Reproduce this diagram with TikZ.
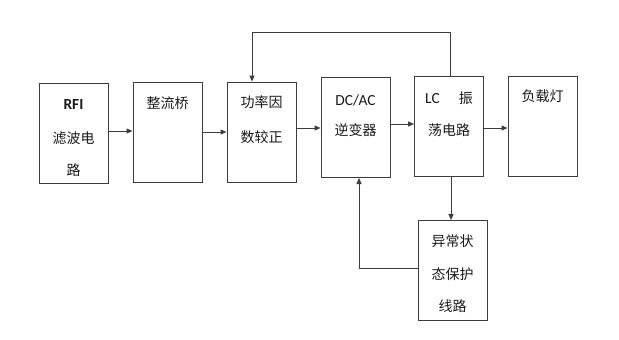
\documentclass[tikz,border=0pt]{standalone}
\usepackage{fontspec}
\setmainfont{Noto Sans CJK SC}
\newfontfamily\latinfont[Scale=1.1]{Carlito}
\usetikzlibrary{arrows.meta}

\begin{document}
\begin{tikzpicture}[x=1pt, y=-1pt,
  blk/.style={draw=linegray, line width=1pt, minimum width=69pt, minimum height=100pt, inner sep=0pt},
  arr/.style={draw=linegray, line width=1pt, -{Triangle[length=6pt, width=5pt]}},
  txt/.style={font=\fontsize{14pt}{16pt}\selectfont, text=textblack, inner sep=0pt}]
  % colors close to the figure
  \definecolor{linegray}{RGB}{60,60,60}
  \definecolor{textblack}{RGB}{25,25,25}

  % picture size
  \useasboundingbox (0,0) rectangle (619,340);

  % blocks
  \node[blk] (rfi)  at (73.5,133)  {};
  \node[blk] (zlq)  at (167.5,132) {};
  \node[blk] (pfc)  at (261.5,132) {};
  \node[blk] (inv)  at (355.5,127.5) {};
  \node[blk] (lc)   at (449,126)   {};
  \node[blk] (load) at (542.5,126) {};
  \node[blk] (prot) at (452.5,270.5) {};

  % block texts
  \node[txt] (rfi1) at (73.5,105) {\latinfont\bfseries RFI};
  \node[txt] (rfi2) at (73.5,138) {滤波电};
  \node[txt] (rfi3) at (73.5,170) {路};
  \node[txt] (zlq1) at (167.5,103) {整流桥};
  \node[txt] (pfc1) at (261.5,102) {功率因};
  \node[txt] (pfc2) at (261.5,137) {数较正};
  \node[txt] (inv1) at (355.5,100) {\latinfont DC/AC};
  \node[txt] (inv2) at (355.5,130) {逆变器};
  \node[txt] (lc1)  at (449,98)    {{\latinfont LC}\hspace{19pt}振};
  \node[txt] (lc2)  at (449,130)   {荡电路};
  \node[txt] (load1) at (542.5,96) {负载灯};
  \node[txt] (prot1) at (452.5,241) {异常状};
  \node[txt] (prot2) at (452.5,274) {态保护};
  \node[txt] (prot3) at (452.5,306) {线路};

  % forward path
  \draw[arr] (rfi.east |- 0,131) -- (zlq.west |- 0,131);
  \draw[arr] (zlq.east) -- (pfc.west);
  \draw[arr] (pfc.east |- 0,128) -- (inv.west |- 0,128);
  \draw[arr] (inv.east |- 0,124) -- (lc.west |- 0,124);
  \draw[arr] (lc.east |- 0,128) -- (load.west |- 0,128);

  % feedback loops
  \coordinate (fbtop) at (252,32);
  \draw[arr] ([xshift=1pt]lc.north) |- (fbtop) -- (fbtop |- pfc.north);
  \draw[arr] ([xshift=2pt]lc.south) -- ([xshift=2pt]lc.south |- prot.north);
  \draw[arr] ([yshift=2.5pt]prot.west) -| ([xshift=3.5pt]inv.south);
\end{tikzpicture}
\end{document}
